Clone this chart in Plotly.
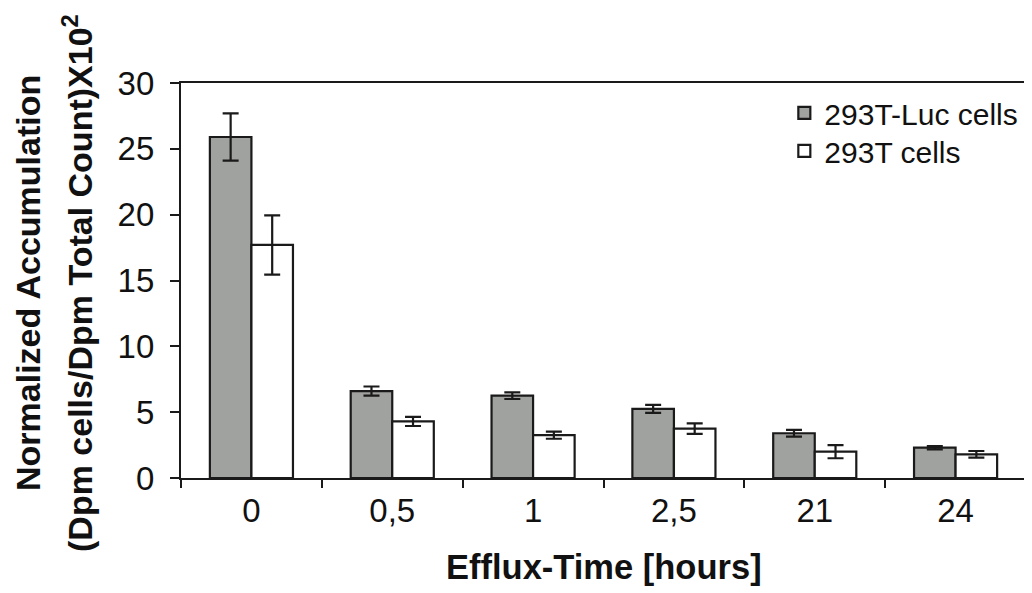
import plotly.graph_objects as go

categories = ["0", "0,5", "1", "2,5", "21", "24"]
luc_values = [25.9, 6.6, 6.25, 5.25, 3.4, 2.3]
luc_errors = [1.8, 0.35, 0.25, 0.3, 0.25, 0.12]
t_values = [17.7, 4.3, 3.25, 3.75, 2.0, 1.8]
t_errors = [2.25, 0.35, 0.27, 0.4, 0.5, 0.25]
y_ticks = [0, 5, 10, 15, 20, 25, 30]

FONT = "Liberation Sans, Arial, sans-serif"
INK = "#1a1a1a"

fig = go.Figure()
fig.add_trace(go.Bar(
    name="293T-Luc cells", x=categories, y=luc_values, legend="legend",
    marker=dict(color="#a0a29f", line=dict(color=INK, width=2.2)),
    error_y=dict(type="data", array=luc_errors, visible=True,
                 color=INK, thickness=2.2, width=8),
))
fig.add_trace(go.Bar(
    name="293T cells", x=categories, y=t_values, legend="legend2",
    marker=dict(color="#ffffff", line=dict(color=INK, width=2.2)),
    error_y=dict(type="data", array=t_errors, visible=True,
                 color=INK, thickness=2.2, width=8),
))

legend_style = dict(xanchor="left", yanchor="top",
                    font=dict(size=30, family=FONT, color="#111111"),
                    bgcolor="rgba(0,0,0,0)")

# page body has an 8px margin, so the figure is 8px smaller and margins shifted
fig.update_layout(
    width=1024, height=585,
    margin=dict(l=173, r=4, t=75, b=115),
    paper_bgcolor="white", plot_bgcolor="white",
    barmode="group", bargap=0.41, bargroupgap=0,
    font=dict(family=FONT, color="#111111"),
    showlegend=True,
    legend=dict(x=0.714, y=0.99, **legend_style),
    legend2=dict(x=0.714, y=0.894, **legend_style),
)
fig.update_xaxes(
    type="category", showline=True, linecolor=INK, linewidth=2.2,
    mirror=True, ticks="outside", tickson="boundaries", ticklen=8,
    tickwidth=2, tickcolor=INK, tickfont=dict(size=33, family=FONT),
    ticklabelstandoff=2, showgrid=False,
)
fig.update_yaxes(
    range=[0, 30], tickvals=y_ticks, showline=True, linecolor=INK,
    linewidth=2.2, mirror=True, ticks="outside", ticklen=9, tickwidth=2,
    tickcolor=INK, tickfont=dict(size=33, family=FONT), showgrid=False,
    ticklabelstandoff=9, zeroline=False,
)

fig.add_annotation(
    text="Normalized Accumulation", textangle=-90, xref="paper", yref="paper",
    x=0, y=0.4937, xanchor="center", yanchor="middle", xshift=28 - 181,
    showarrow=False, font=dict(size=34, family=FONT, color="#111111", weight="bold"),
)
fig.add_annotation(
    text="(Dpm cells/Dpm Total Count)X10<sup>2</sup>", textangle=-90,
    xref="paper", yref="paper",
    x=0, y=0.4937, xanchor="center", yanchor="middle", xshift=78 - 181,
    showarrow=False, font=dict(size=34, family=FONT, color="#111111", weight="bold"),
)
fig.add_annotation(
    text="Efflux-Time [hours]", xref="paper", yref="paper",
    x=0.5, y=-0.2253, xanchor="center", yanchor="middle",
    showarrow=False, font=dict(size=34.5, family=FONT, color="#111111", weight="bold"),
)

fig.write_html("out.html")
